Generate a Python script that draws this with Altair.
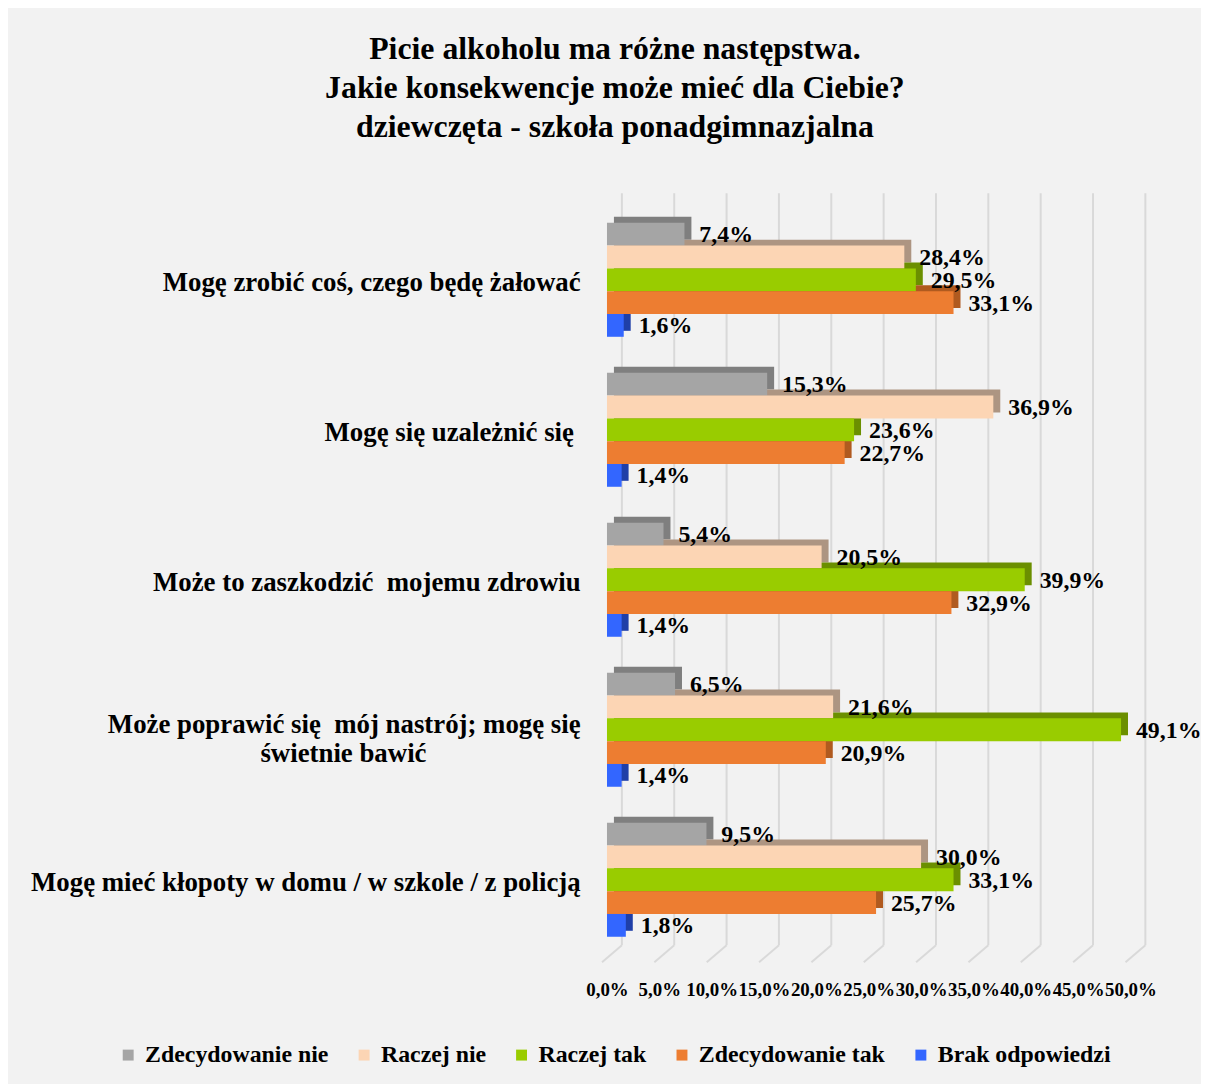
import altair as alt
import pandas as pd

categories = [
    "Mogę zrobić coś, czego będę żałować",
    "Mogę się uzależnić się\u00a0\u200b",
    "Może to zaszkodzić\u00a0 mojemu zdrowiu",
    "Może poprawić się\u00a0 mój nastrój; mogę się\nświetnie bawić",
    "Mogę mieć kłopoty w domu / w szkole / z policją",
]
series = ["Zdecydowanie nie", "Raczej nie", "Raczej tak", "Zdecydowanie tak", "Brak odpowiedzi"]
zdecydowanie_nie = [7.4, 15.3, 5.4, 6.5, 9.5]
raczej_nie = [28.4, 36.9, 20.5, 21.6, 30.0]
raczej_tak = [29.5, 23.6, 39.9, 49.1, 33.1]
zdecydowanie_tak = [33.1, 22.7, 32.9, 20.9, 25.7]
brak = [1.6, 1.4, 1.4, 1.4, 1.8]
ticks = [0, 5, 10, 15, 20, 25, 30, 35, 40, 45, 50]

face_colors = ["#a5a5a5", "#fcd5b4", "#99cc00", "#ed7d31", "#3366ff"]
side_colors = ["#7f7f7f", "#ad9582", "#6b8f00", "#b05a1f", "#1f3fa8"]

values = [zdecydowanie_nie, raczej_nie, raczej_tak, zdecydowanie_tak, brak]
rows = []
for s, vals, dark in zip(series, values, side_colors):
    for c, v in zip(categories, vals):
        rows.append({"cat": c, "series": s, "value": v, "dark": dark})
df = pd.DataFrame(rows)
tick_df = pd.DataFrame({"tick": ticks})

FONT = "Liberation Serif"
W, H = 527, 755
BW = H / 5 * 0.76

xscale = alt.Scale(domain=[0, 50], nice=False, zero=True)
yscale = alt.Scale(domain=categories, paddingInner=0.24, paddingOuter=0.12)
front_off = alt.Scale(domain=series, range=[0, BW], paddingInner=0, paddingOuter=0)
back_off = alt.Scale(domain=series, range=[-6, BW - 6], paddingInner=0, paddingOuter=0)
text_off = alt.Scale(type="point", domain=series, range=[0, BW], padding=0.5)

pad = "\u00a0" * 23 + "\u200b"
multi_test = "indexof(datum.label, '\\n') >= 0"
label_expr = (
    "length(split(datum.label, '\\n')) > 1 ? "
    "[split(datum.label, '\\n')[0], split(datum.label, '\\n')[1] + '" + pad + "'] : datum.label"
)

x_axis = alt.Axis(
    values=ticks,
    labelExpr="replace(format(datum.value, '.1f'), '.', ',') + '%'",
    grid=False, domain=False, ticks=False, title=None,
    labelFont=FONT, labelFontSize=19, labelFontWeight="bold", labelColor="#000000",
    labelPadding=26, labelOverlap=False, labelFlush=False,
)
y_axis = alt.Axis(
    title=None, domain=False, ticks=False, labelPadding=27,
    labelFont=FONT, labelFontSize=27, labelFontWeight="bold", labelColor="#000000",
    labelLineHeight=29, labelLimit=0, labelExpr=label_expr,
    labelOffset={"condition": {"test": multi_test, "value": -5}, "value": 3},
)

X = alt.X("value:Q", scale=xscale, axis=x_axis, title=None)
Y = alt.Y("cat:N", scale=yscale, sort=categories, axis=y_axis, title=None)

grid = alt.Chart(tick_df).mark_rule(color="#d9d9d9", strokeWidth=2, xOffset=15).encode(
    x=alt.X("tick:Q", scale=xscale, axis=x_axis, title=None),
    y=alt.value(-11.5),
    y2=alt.value(745.5),
)
floor = alt.Chart(tick_df).mark_rule(color="#d9d9d9", strokeWidth=2, xOffset=15, x2Offset=-5).encode(
    x=alt.X("tick:Q", scale=xscale, axis=x_axis, title=None),
    x2="tick:Q",
    y=alt.value(745.5),
    y2=alt.value(762.5),
)

shadow = alt.Chart(df).mark_bar(xOffset=7, x2Offset=7).encode(
    x=X,
    y=Y,
    yOffset=alt.YOffset("series:N", scale=back_off, sort=series),
    color=alt.Color("dark:N", scale=None),
)

front = alt.Chart(df).mark_bar().encode(
    x=X,
    y=Y,
    yOffset=alt.YOffset("series:N", scale=front_off, sort=series),
    color=alt.Color(
        "series:N",
        scale=alt.Scale(domain=series, range=face_colors),
        legend=alt.Legend(
            title=None, orient="none", legendX=-494, legendY=844, direction="horizontal",
            symbolType="square", symbolSize=121, symbolStrokeWidth=0,
            labelFont=FONT, labelFontSize=24, labelFontWeight="bold", labelColor="#000000",
            columnPadding=23.5, labelOffset=5, labelLimit=0,
        ),
    ),
)

labels = alt.Chart(df).mark_text(
    align="left", baseline="middle", dx=15, dy=1,
    font=FONT, fontSize=24, fontWeight="bold", color="#000000",
).encode(
    x=X,
    y=Y,
    yOffset=alt.YOffset("series:N", scale=text_off, sort=series),
    text=alt.Text("label:N"),
).transform_calculate(
    label="replace(format(datum.value, '.1f'), '.', ',') + '%'"
)

chart = alt.layer(grid, floor, shadow, front, labels).resolve_scale(
    yOffset="independent", color="independent"
).properties(
    width=W,
    height=H,
    autosize=alt.AutoSizeParams(type="none"),
    padding={"left": 603, "top": 194.5, "right": 71, "bottom": 126.5},
    background="#f2f2f2",
    title=alt.TitleParams(
        text=[
            "Picie alkoholu ma różne następstwa.",
            "Jakie konsekwencje może mieć dla Ciebie?",
            "dziewczęta - szkoła ponadgimnazjalna",
        ],
        font=FONT, fontSize=32, fontWeight="bold", color="#000000",
        lineHeight=39, anchor="middle", frame="group", dx=-255.5, offset=49,
    ),
).configure_view(stroke=None)

chart.save("out.html", embed_options={"renderer": "svg", "actions": False})
